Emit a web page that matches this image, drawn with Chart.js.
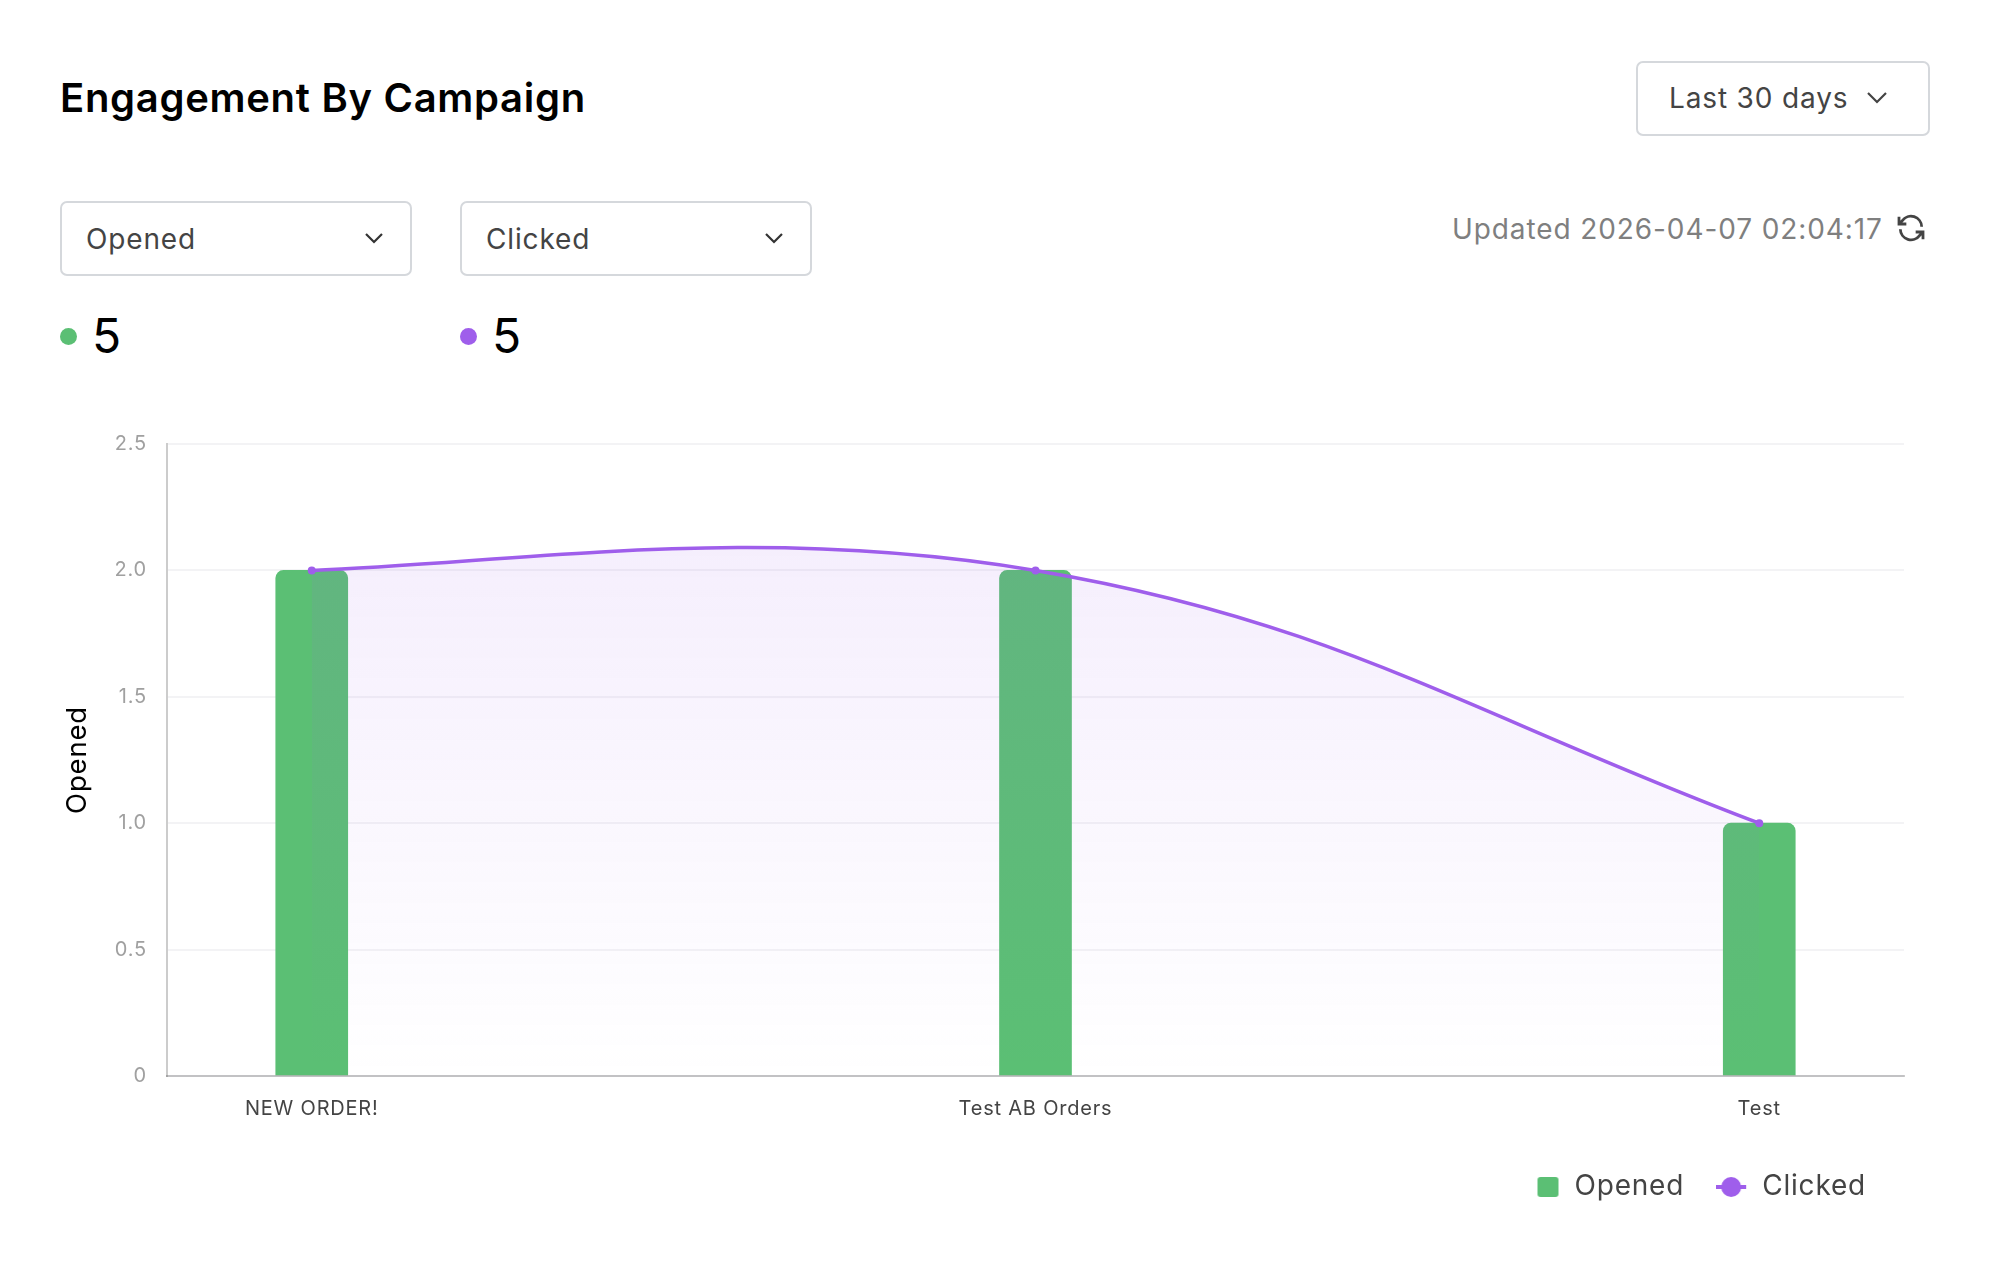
<!DOCTYPE html>
<html><head><meta charset="utf-8">
<script src="https://cdn.jsdelivr.net/npm/chart.js@4"></script>
<style>
html,body{margin:0;padding:0;background:#fff;width:1990px;height:1280px;overflow:hidden;font-family:Inter,sans-serif}
.a{position:absolute;white-space:nowrap}
#title{left:60px;top:72px;font-size:40px;line-height:52px;font-weight:600;color:#000;letter-spacing:0.7px}
.box{box-sizing:border-box;border:2px solid #d5d8dc;border-radius:7px;background:#fff}
.lbl{font-size:28px;line-height:36px;color:#444;letter-spacing:0.85px}
.dot{width:17px;height:17px;border-radius:50%}
.num{font-size:48px;line-height:56px;color:#000}
canvas{position:absolute;left:61px;top:412px}
</style></head><body>
<div class="a" id="title">Engagement By Campaign</div>
<div class="a box" style="left:1636px;top:61px;width:294px;height:75px"></div>
<div class="a lbl" id="range" style="left:1669px;top:80px"></div>
<svg class="a" style="left:1865px;top:90px" width="24" height="16" viewBox="0 0 24 16"><path d="M3 3l9 9 9-9" fill="none" stroke="#444" stroke-width="2.2"/></svg>
<div class="a box" style="left:60px;top:201px;width:352px;height:75px"></div>
<div class="a lbl" id="m1" style="left:86px;top:221px"></div>
<svg class="a" style="left:363px;top:231px" width="22" height="14" viewBox="0 0 22 14"><path d="M3 3l8 8 8-8" fill="none" stroke="#333" stroke-width="2.2"/></svg>
<div class="a box" style="left:460px;top:201px;width:352px;height:75px"></div>
<div class="a lbl" id="m2" style="left:486px;top:221px"></div>
<svg class="a" style="left:763px;top:231px" width="22" height="14" viewBox="0 0 22 14"><path d="M3 3l8 8 8-8" fill="none" stroke="#333" stroke-width="2.2"/></svg>
<div class="a" id="upd" style="left:1452px;top:211px;font-size:28px;line-height:36px;color:#7f7f7f;letter-spacing:0.9px"></div>
<svg class="a" style="left:1894px;top:212px" width="34" height="32" viewBox="0 0 24 24" fill="none" stroke="#444" stroke-width="2.1"><path d="M20 11A8 8 0 0 0 5.500 6.500L3 9M3 3.500V9h5.500M4 13a8 8 0 0 0 14.500 4.500L21 15M21 20.500V15h-5.500"/></svg>
<div class="a dot" style="left:60px;top:328px;background:#5bbf74"></div>
<div class="a num" id="t1" style="left:92px;top:308px"></div>
<div class="a dot" style="left:460px;top:328px;background:#9f5eeb"></div>
<div class="a num" id="t2" style="left:492px;top:308px"></div>
<canvas id="c" width="1847" height="799"></canvas>
<script>
const rangeLabel = "Last 30 days";
const updatedLabel = "Updated 2026-04-07 02:04:17";
const categories = ["NEW ORDER!", "Test AB Orders", "Test"];
const openedValues = [2, 2, 1];
const clickedValues = [2, 2, 1];
const openedTotal = 5;
const clickedTotal = 5;
const yTickLabels = {0:"0",0.5:"0.5",1:"1.0",1.5:"1.5",2:"2.0",2.5:"2.5"};
const GREEN = "#5bbf74", PURPLE = "#9f5eeb";

document.getElementById("range").textContent = rangeLabel;
document.getElementById("m1").textContent = "Opened";
document.getElementById("m2").textContent = "Clicked";
document.getElementById("upd").textContent = updatedLabel;
document.getElementById("t1").textContent = openedTotal;
document.getElementById("t2").textContent = clickedTotal;

function squareIcon(){
  const k=document.createElement("canvas");k.width=32;k.height=22;
  const x=k.getContext("2d");x.fillStyle=GREEN;x.beginPath();x.roundRect(9,1,21,20,3);x.fill();return k;
}
function lineIcon(){
  const k=document.createElement("canvas");k.width=32;k.height=22;
  const x=k.getContext("2d");x.fillStyle=PURPLE;x.fillRect(0,9,30,4);x.beginPath();x.arc(15,11,10,0,Math.PI*2);x.fill();return k;
}
const legendIcons = {Clicked: lineIcon(), Opened: squareIcon()};
const canvas=document.getElementById("c");
const ctx=canvas.getContext("2d");
const stylePlugin={id:"styleTweaks",
  beforeUpdate(chart){chart.ctx.letterSpacing="0.8px";},
  afterLayout(chart){chart.legend.right-=10;},
  // Shapes the smoothing of the Clicked curve; the points themselves stay on the scales.
  afterDatasetsUpdate(chart){
    const line=chart.getDatasetMeta(0).dataset;
    line.updateControlPoints(chart.chartArea,"x");
    const [a,b,c]=line.points, w=b.x-a.x;
    a.cp2x=a.x+0.29*w; a.cp2y=a.y-0.011*w;
    b.cp1y=b.y-0.168*(b.x-b.cp1x);
    b.cp2y=b.y+0.069*w;
    c.cp1y=b.y+0.1986*w;
  }};
new Chart(ctx,{
  type:"bar",
  plugins:[stylePlugin],
  data:{datasets:[
    {type:"line",label:"Clicked",order:0,data:categories.map((c,i)=>({x:i,y:clickedValues[i]})),
     borderColor:PURPLE,borderWidth:3.5,tension:0.4,pointRadius:4,pointBackgroundColor:PURPLE,pointBorderColor:PURPLE,pointBorderWidth:0,
     fill:"origin",
     backgroundColor(c){const a=c.chart.chartArea;if(!a)return "transparent";
       const g=c.chart.ctx.createLinearGradient(0,a.top,0,a.bottom);
       g.addColorStop(0,"rgba(159,94,235,0.12)");g.addColorStop(1,"rgba(159,94,235,0)");return g;}},
    {type:"bar",label:"Opened",order:1,data:categories.map((c,i)=>({x:i,y:openedValues[i]})),
     backgroundColor:GREEN,barThickness:72,borderRadius:{topLeft:8,topRight:8,bottomLeft:0,bottomRight:0},borderSkipped:"bottom"}
  ]},
  options:{
    responsive:false,animation:false,devicePixelRatio:1,
    layout:{padding:{left:0,right:0,top:10,bottom:0}},
    scales:{
      x:{type:"linear",offset:false,min:-0.2,max:2.2,
        grid:{display:false,offset:false},
        border:{color:"rgba(0,0,0,0.2)",width:2,z:1},
        afterFit(s){s.height+=7;},
        ticks:{stepSize:1,includeBounds:false,autoSkip:false,maxRotation:0,padding:13,color:"#444",font:{family:"Inter",size:20},
          callback:v=>categories[v]}},
      y:{min:0,max:2.5,
        grid:{color:"#f3f3f5",lineWidth:2,drawTicks:false},
        border:{color:"rgba(0,0,0,0.2)",width:2},
        afterFit(s){s.width=106;},
        ticks:{stepSize:0.5,padding:20,color:"#a0a0a0",font:{family:"Inter",size:20},callback:v=>yTickLabels[v]},
        title:{display:true,text:"Opened",color:"#000",font:{family:"Inter",size:27.5},padding:{top:0,bottom:12}}}
    },
    plugins:{
      tooltip:{enabled:false},
      legend:{position:"bottom",align:"end",reverse:true,
        labels:{usePointStyle:true,boxWidth:32,boxHeight:22,pointStyleWidth:32,padding:32,color:"#444",font:{family:"Inter",size:28},
          generateLabels(chart){return chart.data.datasets.map((d,i)=>({text:d.label,pointStyle:legendIcons[d.label],datasetIndex:i,fontColor:"#444",lineWidth:0,strokeStyle:"transparent",fillStyle:"transparent"}));}}}
    }
  }
});
</script>
</body></html>
